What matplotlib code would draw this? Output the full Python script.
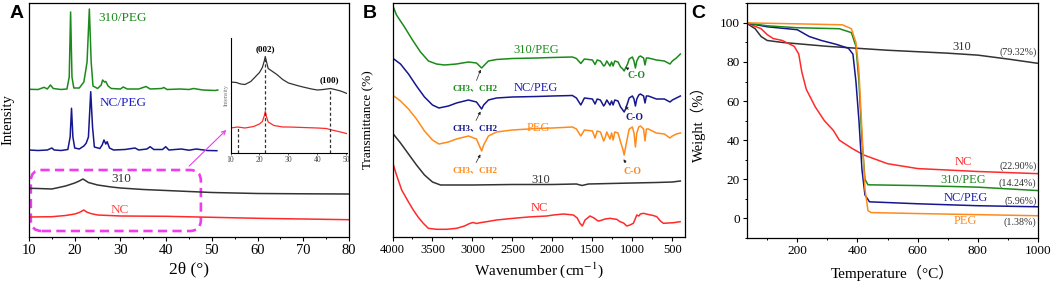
import numpy as np
import matplotlib
matplotlib.use("Agg")
import matplotlib.pyplot as plt
from matplotlib.patches import FancyBboxPatch
from matplotlib.ticker import MultipleLocator

plt.rcParams['font.family'] = ['Liberation Serif', 'Noto Sans CJK SC']
plt.rcParams['mathtext.fontset'] = 'stix'

GREEN = '#1b8a1b'
BLUE = '#16168f'
ORANGE = '#ff8a1c'
RED = '#ff2a2a'
BLACK = '#333333'
MAGENTA = '#ee3cee'

# ---- A: XRD (arbitrary intensity units) ----
xrd_310peg_x = [10, 12, 13.3, 14, 14.7, 15.3, 17, 18.3, 18.8, 19.1, 19.4, 19.8, 21, 22, 22.25, 22.7,
                23.2, 23.6, 24, 25, 25.8, 26.1, 26.5, 26.8, 27.3, 28, 30, 30.6, 31.5, 34, 35.6, 36.5,
                39, 39.5, 40.2, 43, 45, 46, 48, 50.7, 51.3]
xrd_310peg_y = [147.7, 147.5, 149.7, 148, 152, 148.5, 147.5, 148, 160, 225, 160, 149, 149, 155, 162, 175,
                228, 175, 151, 148.5, 152, 157, 155, 155.5, 151, 148.5, 148, 150, 148, 148, 150.5, 148,
                148.5, 149.5, 147.5, 148, 147.5, 148.5, 147, 146.5, 147]
xrd_ncpeg_x = [10, 12, 14, 15, 15.5, 17, 18.5, 19, 19.3, 19.6, 20, 21, 22, 22.5, 23, 23.5, 23.9, 24.3,
               25.5, 26, 26.4, 26.8, 27.1, 27.6, 28.5, 31, 33.2, 34, 35.8, 36.5, 37.3, 39.2, 39.9, 40.6,
               43.3, 45, 46.6, 49, 51.1]
xrd_ncpeg_y = [87, 86.5, 87, 89, 87, 86.5, 87.5, 100, 128.7, 100, 89, 88, 91, 93.7, 100, 145.3, 110, 90,
               88.5, 92, 97, 93, 95.3, 89, 87, 87.5, 89, 87, 88, 90.3, 87.5, 87.5, 90.3, 87,
               88, 86.8, 88, 86.5, 86.3]
xrd_310_x = [10, 12, 15, 18, 20, 21, 21.8, 22.5, 23, 25, 28, 30, 35, 40, 45, 50, 55, 60, 70, 80]
xrd_310_y = [48.7, 48.5, 48, 51, 54, 56, 58, 56, 54.5, 52, 50, 49, 47.5, 46.5, 45.5, 44.5, 44, 43.5, 43.2, 43]
xrd_nc_x = [10, 15, 18, 20, 21, 22, 22.6, 23.5, 25, 30, 40, 50, 60, 70, 80]
xrd_nc_y = [20, 20.3, 21.5, 23, 24.5, 27, 25, 23.5, 22, 21, 20.7, 19.7, 18.7, 18, 17.3]

# inset (zoom of 310 and NC)
ins_310_x = [10, 12, 13.5, 15, 17, 19, 20, 21, 21.7, 22, 22.4, 23, 24, 26, 28, 30, 33, 35, 38, 40,
             42, 44.5, 46, 48, 50.2]
ins_310_y = [70.5, 70, 68.5, 68, 71, 77, 80, 85, 92, 96, 91, 84, 82, 78, 73, 69.5, 67, 65.5, 63.5, 62.5,
             63, 64, 63, 61.5, 59]
ins_nc_x = [10, 12.5, 15, 18, 20, 21, 21.7, 22, 22.4, 23, 25, 28, 30, 35, 40, 43, 45, 48, 50]
ins_nc_y = [24.5, 25.5, 24.5, 26, 28.5, 31, 37, 41, 36, 30.5, 27, 25.5, 25.5, 25, 24.5, 24, 22.5, 20.5, 19]

# ---- B: FTIR ----
ftir_310peg = [(4000, 232), (3950, 222), (3850, 210), (3750, 197), (3650, 185), (3550, 176), (3450, 173),
               (3350, 172), (3200, 173), (3050, 175), (2950, 174), (2885, 169), (2850, 172), (2800, 176),
               (2700, 177.5), (2500, 178.5), (2200, 179), (2000, 179.5), (1750, 180), (1700, 178.5),
               (1645, 173.5), (1600, 178), (1500, 177), (1467, 172.5), (1440, 177), (1400, 176),
               (1359, 171), (1342, 172), (1320, 176), (1280, 171), (1260, 175), (1241, 171), (1220, 176),
               (1180, 175), (1148, 170), (1120, 168), (1103, 166), (1085, 169), (1060, 173), (1040, 178),
               (1000, 180), (980, 176), (962, 169), (945, 176), (920, 180), (900, 181), (860, 179),
               (842, 172), (825, 179), (800, 179), (700, 177), (600, 176), (530, 173), (500, 176),
               (450, 179), (400, 183)]
ftir_ncpeg = [(4000, 179), (3900, 173), (3800, 163), (3700, 151), (3600, 140), (3500, 132), (3420, 129),
              (3300, 131), (3200, 134), (3050, 137), (2950, 135), (2885, 128), (2860, 132), (2800, 137),
              (2700, 139), (2500, 140), (2200, 140.5), (2000, 141), (1750, 141.5), (1700, 139),
              (1645, 132), (1600, 139), (1500, 138), (1467, 133), (1440, 138), (1400, 137), (1359, 131),
              (1342, 133), (1320, 137), (1280, 132), (1260, 136), (1241, 132), (1220, 137), (1180, 136),
              (1148, 130), (1120, 127), (1103, 125), (1085, 128), (1060, 134), (1040, 139), (1000, 141),
              (980, 138), (962, 131), (945, 138), (920, 142), (900, 143), (860, 141), (842, 134),
              (825, 141), (800, 141), (700, 138), (600, 138), (530, 135), (500, 137), (450, 139), (400, 141)]
ftir_peg = [(4000, 142), (3900, 136), (3800, 128), (3700, 118), (3600, 106), (3500, 97), (3420, 93),
            (3300, 95), (3200, 98), (3050, 101), (2950, 98), (2885, 86), (2860, 92), (2800, 101),
            (2700, 105), (2500, 107), (2200, 108.5), (2000, 109), (1750, 110), (1700, 108), (1645, 101),
            (1600, 107), (1500, 106), (1467, 99), (1440, 106), (1400, 105), (1359, 96), (1342, 99),
            (1320, 105), (1280, 98), (1260, 104), (1241, 97), (1220, 105), (1180, 104), (1148, 95),
            (1120, 88), (1103, 82), (1085, 90), (1060, 100), (1040, 108), (1000, 110), (980, 104),
            (962, 90), (945, 104), (920, 110), (900, 111), (860, 108), (842, 96), (825, 108), (800, 108),
            (700, 104), (600, 103), (530, 99), (500, 101), (450, 103), (400, 104)]
ftir_310 = [(4000, 104), (3900, 94), (3800, 83), (3700, 72), (3600, 62), (3500, 55), (3400, 52),
            (3000, 52), (2500, 52.5), (2000, 52.5), (1700, 53), (1630, 51.5), (1550, 53), (1000, 54),
            (700, 54.5), (500, 55), (400, 56)]
ftir_nc = [(4000, 75), (3950, 62), (3885, 47), (3800, 35), (3740, 27), (3680, 20), (3615, 13.7),
           (3552, 8.7), (3450, 7.7), (3322, 7.7), (3197, 8.7), (3100, 11), (3030, 13.7), (2990, 14.5),
           (2950, 13.5), (2905, 14.3), (2822, 15.3), (2700, 17), (2487, 18.7), (2300, 20), (2071, 21),
           (1988, 22), (1863, 23), (1738, 22), (1690, 19), (1655, 13.7), (1626, 11), (1592, 17),
           (1530, 21), (1480, 19), (1430, 16), (1404, 16.3), (1340, 18), (1279, 18.7), (1230, 18),
           (1196, 17.7), (1154, 15.3), (1110, 14), (1070, 11), (1030, 12), (988, 13.7), (965, 18),
           (945, 22), (920, 21), (900, 23), (862, 23.7), (800, 22.5), (740, 21.5), (695, 20.3),
           (650, 16), (612, 13.7), (550, 14), (487, 14.3), (403, 15.3)]

# ---- C: TGA ----
tga_310_t = [30, 60, 80, 100, 150, 300, 500, 700, 800, 900, 1000]
tga_310_w = [100, 97, 93, 91, 90, 88, 86, 84.5, 83.5, 81.5, 79.3]
tga_nc_t = [30, 80, 100, 120, 150, 190, 205, 215, 230, 260, 290, 320, 340, 380, 420, 500, 600, 800, 1000]
tga_nc_w = [100, 97, 94, 92, 91, 88, 84, 75, 66, 57, 50, 45, 40, 36, 32.5, 28, 25.5, 24, 22.9]
tga_310peg_t = [30, 100, 200, 340, 380, 395, 405, 415, 425, 435, 600, 800, 1000]
tga_310peg_w = [100, 98.5, 97.5, 97, 95, 88, 70, 40, 20, 17.2, 16.8, 16, 14.24]
tga_ncpeg_t = [30, 100, 200, 240, 280, 330, 370, 385, 395, 405, 415, 425, 440, 600, 800, 1000]
tga_ncpeg_w = [100, 98, 96.5, 93, 91, 89, 87, 84, 70, 50, 25, 12, 8.5, 7.5, 6.5, 5.96]
tga_peg_t = [30, 200, 350, 380, 395, 405, 415, 425, 435, 445, 600, 1000]
tga_peg_w = [100, 99.5, 99, 97, 90, 75, 45, 15, 4, 3, 2.5, 1.38]
residue_labels = ['(79.32%)', '(22.90%)', '(14.24%)', '(5.96%)', '(1.38%)']

W, H = 1052, 287
fig = plt.figure(figsize=(W / 100, H / 100), dpi=100)


def style_bottom(ax, size):
    ax.tick_params(axis='both', which='major', direction='out', length=3, width=0.8, labelsize=size, pad=2)
    ax.tick_params(axis='both', which='minor', direction='out', length=1.6, width=0.7)
    for s in ax.spines.values():
        s.set_linewidth(0.9)


# ======================= A =======================
axA = fig.add_axes([29 / W, 1 - 237 / H, 320 / W, 234.5 / H])
axA.plot(xrd_310peg_x, xrd_310peg_y, color=GREEN, lw=1.1)
axA.plot(xrd_ncpeg_x, xrd_ncpeg_y, color=BLUE, lw=1.1)
axA.plot(xrd_310_x, xrd_310_y, color=BLACK, lw=1.1)
axA.plot(xrd_nc_x, xrd_nc_y, color=RED, lw=1.1)
axA.set_xlim(10, 80)
axA.set_ylim(0, 234.5)
axA.set_yticks([])
axA.xaxis.set_major_locator(MultipleLocator(10))
axA.xaxis.set_minor_locator(MultipleLocator(5))
style_bottom(axA, 10.5)
axA.set_xlabel('2θ (°)', fontsize=12.5)
axA.xaxis.set_label_coords(0.5, -0.105)
axA.set_ylabel('Intensity', fontsize=10.5)
axA.yaxis.set_label_coords(-0.045, 0.5)
axA.text(30.5, 219, '310/PEG', color=GREEN, fontsize=9.5, ha='center', va='center')
axA.text(30.6, 133.7, 'NC/PEG', color='#2020c8', fontsize=9.5, ha='center', va='center')
axA.text(30.1, 58, '310', color=BLACK, fontsize=9.5, ha='center', va='center')
axA.text(29.9, 26.7, 'NC', color='#ff4a4a', fontsize=9.5, ha='center', va='center')

box = FancyBboxPatch((10.4, 6), 37.2, 61, boxstyle='round,pad=0,rounding_size=2.4',
                     mutation_aspect=4.57, fill=False, edgecolor=MAGENTA, lw=1.9,
                     linestyle=(0, (3.5, 2)), clip_on=False)
axA.add_patch(box)
axA.annotate('', xy=(53.6, 109), xytext=(44.6, 69),
             arrowprops=dict(arrowstyle='->', color=MAGENTA, lw=0.8, mutation_scale=7))

axI = fig.add_axes([230.5 / W, 1 - 152.5 / H, 116.5 / W, 114.5 / H])
axI.patch.set_alpha(0)
axI.plot(ins_310_x, ins_310_y, color=BLACK, lw=0.9)
axI.plot(ins_nc_x, ins_nc_y, color=RED, lw=0.9)
for xd, ytop in [(22, 96), (44.5, 63), (12.5, 25)]:
    axI.plot([xd, xd], [0, ytop], color=BLACK, lw=0.9, linestyle=(0, (2.5, 1.8)))
axI.text(22, 103, '(002)', fontsize=6.5, fontweight='bold', ha='center', va='center')
axI.text(44, 72, '(100)', fontsize=6.5, fontweight='bold', ha='center', va='center')
axI.set_xlim(10, 50.2)
axI.set_ylim(0, 114.5)
axI.set_yticks([])
axI.set_xticks([10, 20, 30, 40, 50])
axI.tick_params(axis='x', labelsize=5.5, length=1.5, width=0.6, pad=1, colors='#444444')
axI.spines['top'].set_visible(False)
axI.spines['right'].set_visible(False)
axI.spines['left'].set_linewidth(0.8)
axI.spines['bottom'].set_linewidth(0.8)
axI.set_ylabel('Intensity', fontsize=4.5, color='#777777', labelpad=1)

# ======================= B =======================
axB = fig.add_axes([392.5 / W, 1 - 237 / H, 292.5 / W, 234.5 / H])
for data, col in [(ftir_310peg, GREEN), (ftir_ncpeg, BLUE), (ftir_peg, ORANGE),
                  (ftir_310, BLACK), (ftir_nc, RED)]:
    xs, ys = zip(*data)
    axB.plot(xs, ys, color=col, lw=1.1)
axB.set_xlim(4000, 342)
axB.set_ylim(0, 234.5)
axB.set_yticks([])
axB.xaxis.set_major_locator(MultipleLocator(500))
axB.xaxis.set_minor_locator(MultipleLocator(250))
style_bottom(axB, 9)
axB.set_xlabel('Wavenumber (cm$^{-1}$)', fontsize=11)
axB.xaxis.set_label_coords(0.5, -0.1)
axB.set_ylabel('Transmittance (%)', fontsize=9.5)
axB.yaxis.set_label_coords(-0.062, 0.5)

axB.text(2209, 187, '310/PEG', color=GREEN, fontsize=9, ha='center', va='center')
axB.text(2209, 149, 'NC/PEG', color='#2020b0', fontsize=9, ha='center', va='center')
axB.text(2172, 109, 'PEG', color=ORANGE, fontsize=9, ha='center', va='center')
axB.text(2147, 57, '310', color=BLACK, fontsize=9, ha='center', va='center')
axB.text(2159, 29, 'NC', color=RED, fontsize=9, ha='center', va='center')

ch_labels = [(148.7, GREEN, (2962, 154), (2884, 170)),
             (108.7, BLUE, (2971, 114), (2884, 128)),
             (67, ORANGE, (2971, 72), (2884, 85))]
for yv, col, p0, p1 in ch_labels:
    axB.text(2968, yv, 'CH3、CH2', color=col, fontsize=6.5, fontweight='bold', ha='center', va='center')
    axB.annotate('', xy=p1, xytext=p0,
                 arrowprops=dict(arrowstyle='-|>', color='#222222', lw=0.5, mutation_scale=4))
co_labels = [(945, 161, GREEN, (1029, 167), (1115, 171)),
             (979, 119.7, BLUE, (1029, 125.3), (1110, 133)),
             (995, 65.3, ORANGE, (1063, 72), (1130, 80))]
for xv, yv, col, p0, p1 in co_labels:
    axB.text(xv, yv, 'C-O', color=col, fontsize=7, fontweight='bold', ha='center', va='center')
    axB.annotate('', xy=p1, xytext=p0,
                 arrowprops=dict(arrowstyle='-|>', color='#222222', lw=0.5, mutation_scale=4))

# ======================= C =======================
axC = fig.add_axes([747 / W, 1 - 238 / H, 291 / W, 234.7 / H])
axC.plot(tga_310_t, tga_310_w, color=BLACK, lw=1.1)
axC.plot(tga_nc_t, tga_nc_w, color=RED, lw=1.1)
axC.plot(tga_ncpeg_t, tga_ncpeg_w, color=BLUE, lw=1.1)
axC.plot(tga_310peg_t, tga_310peg_w, color=GREEN, lw=1.1)
axC.plot(tga_peg_t, tga_peg_w, color=ORANGE, lw=1.1)
axC.set_xlim(33, 1000)
axC.set_ylim(-10, 110)
axC.set_xticks([200, 400, 600, 800, 1000])
axC.xaxis.set_minor_locator(MultipleLocator(100))
axC.set_yticks([0, 20, 40, 60, 80, 100])
axC.yaxis.set_minor_locator(MultipleLocator(10))
style_bottom(axC, 9.5)
axC.set_xlabel('Temperature（°C）', fontsize=11)
axC.xaxis.set_label_coords(0.5, -0.115)
axC.set_ylabel('Weight（%）', fontsize=10.5)
axC.yaxis.set_label_coords(-0.14, 0.5)

name_pos = [('310', 745, 87.6, BLACK), ('NC', 752, 29, RED), ('310/PEG', 752, 19.6, GREEN),
            ('NC/PEG', 760, 10.3, '#2020b0'), ('PEG', 758, -1.3, ORANGE)]
for name, tx, wy, col in name_pos:
    axC.text(tx, wy, name, color=col, fontsize=9, ha='center', va='center')
for lab, wy in zip(residue_labels, [85, 26.8, 18.2, 9, -1.8]):
    axC.text(995, wy, lab, color=BLACK, fontsize=7.2, ha='right', va='center')

for letter, px in [('A', 17), ('B', 370), ('C', 698)]:
    fig.text(px / W, 1 - 14 / H, letter, fontsize=14, fontweight='bold',
             family='Liberation Sans', ha='center', va='center')

fig.savefig('out.png', dpi=100)
